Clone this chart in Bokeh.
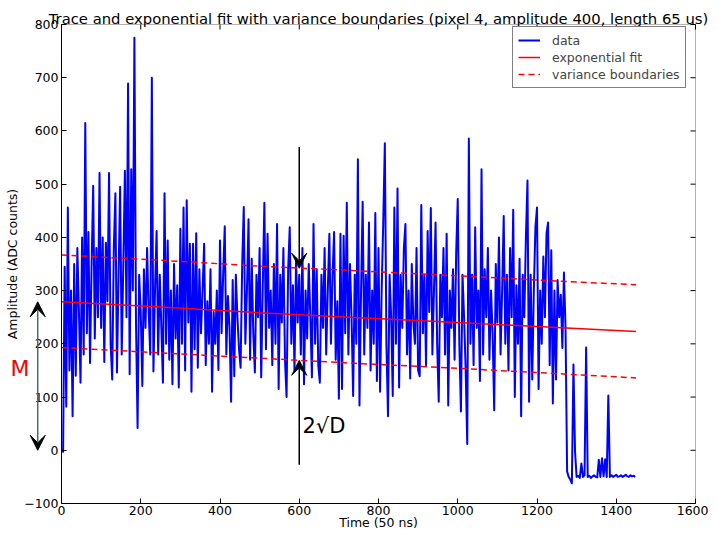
import math
from bokeh.plotting import figure
from bokeh.models import (Range1d, LinearAxis, Arrow, VeeHead, Label, Legend,
                          LegendItem, FixedTicker, BoxAnnotation)
from bokeh.embed import file_html
from bokeh.resources import INLINE

FONT = "DejaVu Sans"

# ---- data -----------------------------------------------------------------
time_step = 4
amplitude = [
    0, -3, 345, 82, 456, 150, 300, 64, 350, 140, 380, 260, 127, 400, 180, 615, 220, 410, 164, 350,
    497, 210, 380, 250, 521, 230, 400, 166, 390, 280, 521, 200, 133, 380, 483, 146, 330, 495, 180, 350,
    525, 250, 689, 143, 528, 300, 775, 240, 42, 330, 260, 121, 340, 230, 380, 260, 180, 700, 148, 300,
    412, 180, 330, 230, 127, 483, 200, 394, 170, 300, 124, 350, 210, 310, 118, 416, 200, 456, 150, 470,
    240, 388, 110, 388, 190, 408, 155, 340, 220, 300, 388, 160, 280, 200, 340, 110, 260, 200, 300, 151,
    394, 220, 330, 421, 180, 290, 230, 91, 320, 139, 330, 250, 190, 155, 350, 457, 200, 300, 434, 170,
    360, 220, 146, 330, 250, 380, 137, 310, 465, 190, 407, 230, 300, 160, 350, 200, 425, 115, 330, 240,
    380, 170, 100, 340, 419, 200, 310, 150, 360, 240, 330, 180, 380, 124, 300, 210, 350, 250, 137, 425,
    200, 340, 160, 127, 330, 230, 380, 180, 300, 407, 200, 330, 410, 170, 280, 97, 407, 115, 403, 220,
    465, 180, 350, 250, 102, 330, 200, 547, 84, 300, 467, 180, 330, 230, 428, 150, 300, 200, 446, 130,
    380, 110, 300, 430, 577, 200, 64, 330, 250, 102, 456, 200, 492, 118, 330, 230, 380, 425, 180, 300,
    135, 350, 240, 200, 380, 150, 139, 461, 220, 330, 160, 412, 260, 455, 180, 300, 428, 200, 91, 330,
    250, 380, 180, 407, 84, 300, 230, 340, 170, 370, 472, 200, 73, 330, 250, 150, 12, 586, 200, 330,
    160, 419, 230, 300, 130, 528, 180, 340, 250, 380, 170, 300, 220, 75, 350, 240, 400, 180, 300, 440,
    200, 330, 150, 380, 250, 452, 100, 310, 200, 360, 64, 330, 250, 400, 507, 91, 330, 133, 300, 419,
    456, 115, 300, 200, 364, 250, 407, 428, 160, 376, 88, 300, 133, 320, 250, 292, 192, 334, 230, -40,
    -50, -55, -62, 161, -3, -50, -48, -52, -25, -50, -47, 193, -50, -48, -52, -49, -47, -50, -51, -18,
    -50, -15, -49, -17, -50, 103, -50, -47, -50, -48, -46, -50, -49, -47, -50, -48, -46, -49, -50, -47,
    -49, -48, -50,
]
time = [i * time_step for i in range(len(amplitude))]

fit_time = [0, 250, 500, 750, 1000, 1250, 1450]
fit_amp = [279, 269, 258.5, 249, 240, 230.5, 223]
upper_amp = [367, 357, 346, 337, 328, 318, 311]
lower_amp = [193, 183, 173, 163, 154, 144, 136]

x_ticks = [0, 200, 400, 600, 800, 1000, 1200, 1400, 1600]
y_ticks = [-100, 0, 100, 200, 300, 400, 500, 600, 700, 800]

TITLE = "Trace and exponential fit with variance boundaries (pixel 4, amplitude 400, length 65 us)"

# annotation anchors (data units)
d_arrow_x = 600
d_top_start, d_top_end = 570, 342
d_bot_start, d_bot_end = -27, 169
d_label_x, d_label_y = 608, 46
m_arrow_x = -60
m_low, m_high = 0, 279
m_label_x, m_label_y = -129, 153

# ---- layout (canvas pixels) ---------------------------------------------
W, H = 708, 530
BOX_L, BOX_R, BOX_T, BOX_B = 61, 695, 24, 503
x_min, x_max = x_ticks[0], x_ticks[-1]
y_min, y_max = y_ticks[0], y_ticks[-1]
sx = (BOX_R - BOX_L) / (x_max - x_min)
sy = (BOX_B - BOX_T) / (y_max - y_min)

def data_y(py):
    return y_max + (BOX_T - py) / sy

p = figure(width=W, height=H, output_backend="svg", toolbar_location=None,
           x_range=Range1d(x_min - BOX_L / sx, x_max + (W - BOX_R) / sx),
           y_range=Range1d(y_min - (H - BOX_B) / sy, y_max + BOX_T / sy),
           x_axis_location=None, y_axis_location=None, min_border=0)
p.background_fill_color = "white"
p.border_fill_color = "white"
p.outline_line_color = None
p.grid.visible = False

def style_axis(ax, ticks):
    ax.ticker = FixedTicker(ticks=ticks)
    ax.major_tick_in = 5
    ax.major_tick_out = 0
    ax.minor_tick_line_color = None
    ax.axis_line_color = "black"
    ax.major_tick_line_color = "black"
    ax.major_label_text_font = FONT
    ax.major_label_text_color = "black"
    ax.major_label_text_font_size = "12.5px"
    ax.axis_label_text_font = FONT
    ax.axis_label_text_font_size = "12.5px"
    ax.axis_label_text_font_style = "normal"
    ax.axis_label_text_color = "black"

xaxis = LinearAxis(fixed_location=y_min, bounds=(x_min, x_max), axis_label="Time (50 ns)")
style_axis(xaxis, x_ticks)
xaxis.major_label_standoff = 2
xaxis.axis_label_standoff = -3
p.add_layout(xaxis, "below")

yaxis = LinearAxis(fixed_location=x_min, bounds=(y_min, y_max), axis_label="Amplitude (ADC counts)")
style_axis(yaxis, y_ticks)
yaxis.major_label_standoff = 3
yaxis.axis_label_standoff = 1
yaxis.major_label_overrides = {-100: "\u2212100"}
p.add_layout(yaxis, "left")

# axes box and mirrored ticks on top / right
p.add_layout(BoxAnnotation(left=x_min, right=x_max, bottom=y_min, top=y_max,
                           fill_alpha=0, line_color="black", line_width=1))
p.ray(x=x_ticks, y=[y_max] * len(x_ticks), length=5, length_units="screen",
      angle=-math.pi / 2, line_color="black", line_width=1)
p.ray(x=[x_max] * len(y_ticks), y=y_ticks, length=5, length_units="screen",
      angle=math.pi, line_color="black", line_width=1)

r_data = p.line(time, amplitude, line_color="#0000ff", line_width=2.0, line_join="round")
r_fit = p.line(fit_time, fit_amp, line_color="#ff0000", line_width=1.5)
r_up = p.line(fit_time, upper_amp, line_color="#ff0000", line_width=1.5, line_dash="6 4")
r_lo = p.line(fit_time, lower_amp, line_color="#ff0000", line_width=1.5, line_dash="6 4")

legend = Legend(items=[LegendItem(label="data", renderers=[r_data]),
                       LegendItem(label="exponential fit", renderers=[r_fit]),
                       LegendItem(label="variance boundaries", renderers=[r_up])],
                location=(512, H - 88))
legend.label_text_font = FONT
legend.label_text_font_size = "12.5px"
legend.border_line_color = "black"
legend.border_line_width = 1
legend.background_fill_color = "white"
legend.background_fill_alpha = 1
legend.margin = 0
legend.padding = 5
legend.spacing = 1
legend.glyph_width = 22
legend.glyph_height = 16
legend.label_height = 16
legend.label_standoff = 12
p.add_layout(legend)

head = dict(size=15, fill_color="black", line_color="black")
p.add_layout(Arrow(end=VeeHead(**head), x_start=d_arrow_x, y_start=d_top_start,
                   x_end=d_arrow_x, y_end=d_top_end, line_color="black", line_width=1.5))
p.add_layout(Arrow(end=VeeHead(**head), x_start=d_arrow_x, y_start=d_bot_start,
                   x_end=d_arrow_x, y_end=d_bot_end, line_color="black", line_width=1.5))
p.add_layout(Arrow(start=VeeHead(**head), end=VeeHead(**head),
                   x_start=m_arrow_x, y_start=m_low, x_end=m_arrow_x, y_end=m_high,
                   line_color="#526a6a", line_width=1.5))

p.add_layout(Label(x=d_label_x, y=d_label_y, text="2\u221aD", text_font=FONT,
                   text_font_size="21px", text_color="black", text_baseline="alphabetic"))
p.add_layout(Label(x=m_label_x, y=m_label_y, text="M", text_font=FONT,
                   text_font_size="22px", text_color="#ff0000", text_baseline="middle"))
p.add_layout(Label(x=(x_min + x_max) / 2, y=data_y(18), text=TITLE, text_font=FONT,
                   text_font_size="14.8px", text_color="black", text_align="center",
                   text_baseline="alphabetic"))

open("out.html", "w").write(file_html(p, INLINE))
